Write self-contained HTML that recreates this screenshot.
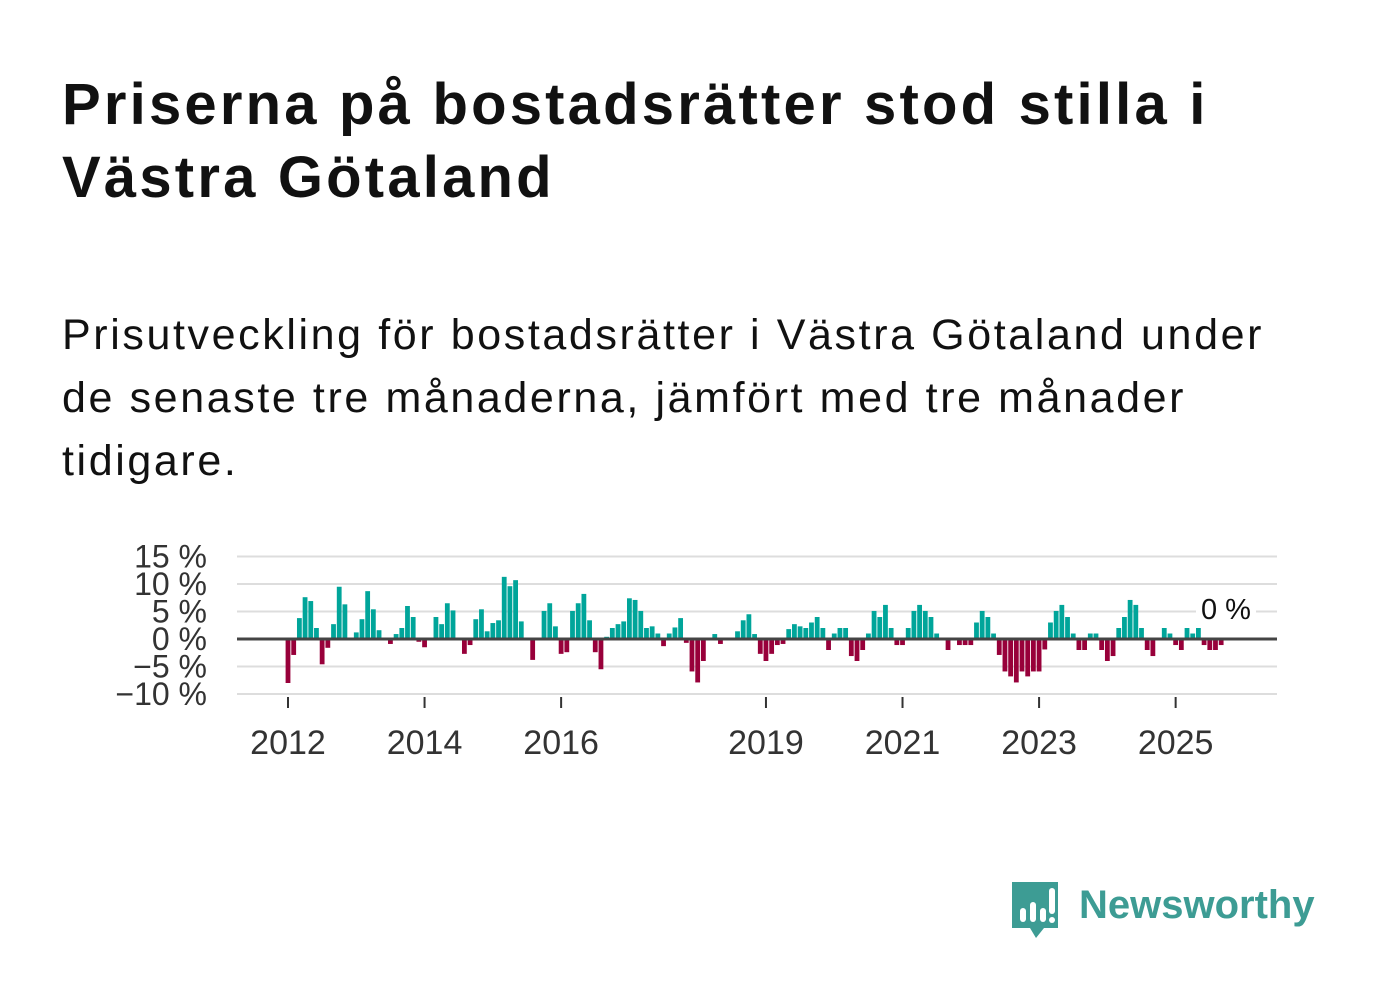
<!DOCTYPE html>
<html><head><meta charset="utf-8"><style>
body{margin:0;background:#fff;width:1382px;height:999px;overflow:hidden;font-family:"Liberation Sans",sans-serif;position:relative}
#title{position:absolute;left:62px;top:68px;font-size:58px;font-weight:bold;line-height:73px;color:#111;margin:0;width:1320px;letter-spacing:3.2px;white-space:nowrap}
#sub{position:absolute;left:62px;top:304px;font-size:43px;line-height:63px;color:#111;width:1320px;letter-spacing:2.6px;white-space:nowrap}
#logo{position:absolute;left:1010px;top:878px}
</style></head><body>
<h1 id="title">Priserna på bostadsrätter stod stilla i<br>Västra Götaland</h1>
<div id="sub">Prisutveckling för bostadsrätter i Västra Götaland under<br>de senaste tre månaderna, jämfört med tre månader<br>tidigare.</div>
<svg id="chart" width="1382" height="999" style="position:absolute;left:0;top:0"></svg>
<div id="logo">
<svg width="320" height="64">
<path d="M2 4 h46 v46 h-14 l-8 10 l-6 -10 h-18z" fill="#3d9c94"/>
<rect x="10" y="30" width="6" height="14" rx="3" fill="#fff"/>
<rect x="20" y="24" width="6" height="20" rx="3" fill="#fff"/>
<rect x="30" y="30" width="6" height="14" rx="3" fill="#fff"/>
<rect x="39" y="10" width="6" height="26" rx="3" fill="#fff"/>
<circle cx="42" cy="42" r="3" fill="#fff"/>
<text x="69" y="40" font-family="Liberation Sans, sans-serif" font-size="40" font-weight="bold" fill="#3d9c94">Newsworthy</text>
</svg></div>
<script>
const values=[-8,-2.9,3.8,7.6,6.9,2.0,-4.6,-1.6,2.7,9.5,6.3,0,1.2,3.6,8.7,5.4,1.6,0,-0.9,0.9,2.0,6.0,4.0,-0.5,-1.5,0,4.0,2.7,6.5,5.2,0,-2.7,-1.1,3.6,5.4,1.4,2.9,3.4,11.3,9.6,10.7,3.2,0,-3.8,0,5.1,6.5,2.3,-2.7,-2.4,5.1,6.5,8.2,3.4,-2.4,-5.5,
0.4,2.0,2.7,3.2,7.4,7.1,5.1,2.0,2.3,1.0,-1.3,1.0,2.1,3.8,-0.7,-5.9,-7.9,-4.0,0,0.9,-0.9,0,0,1.4,3.4,4.5,0.9,-2.7,-4.0,-2.7,-1.1,-0.9,1.8,2.7,2.3,2.0,3.0,4.0,2.0,-2.0,1.0,2.0,2.0,-3.1,-4.0,-2.0,1.0,5.1,4.0,6.2,2.0,-1.1,-1.1,2.0,5.1,6.2,
5.1,4.0,1.0,0,-2.0,0,-1.1,-1.1,-1.1,3.0,5.1,4.0,1.0,-2.9,-5.9,-6.8,-7.9,-5.9,-6.8,-5.9,-5.9,-1.9,
3.0,5.1,6.2,4.0,1.0,-2.0,-2.0,1.0,1.0,-2.0,-4.0,-3.1,2.0,4.0,7.1,6.2,2.0,-2.0,-3.1,0,2.0,1.0,-1.1,-2.0,2.0,1.0,2.0,-1.1,-2.0,-2.0,-1.1];
const startYear=2012;
const yTicks=[15,10,5,0,-5,-10];
const yTickLabels=["15 %","10 %","5 %","0 %","−5 %","−10 %"];
const xYears=[2012,2014,2016,2019,2021,2023,2025];
const NS="http://www.w3.org/2000/svg";
const svg=document.getElementById('chart');
const X0=237,X1=1277;
function x(i){return 288+i*5.69;}
function xYear(yr){return x((yr-startYear)*12);}
function y(v){return 639-v*5.5;}
function mk(t,a){const e=document.createElementNS(NS,t);for(const k in a)e.setAttribute(k,a[k]);svg.appendChild(e);return e;}
yTicks.forEach((t,i)=>{
 if(t!==0){const g=mk('line',{x1:X0,x2:X1,y1:y(t),y2:y(t),stroke:'#dddddd','stroke-width':2});
 
 }
 const l=mk('text',{x:207,y:y(t)+11,'text-anchor':'end','font-size':32,fill:'#333','font-family':'Liberation Sans, sans-serif'});
 l.textContent=yTickLabels[i];
 
 
});
values.forEach((v,i)=>{
 const r=mk('rect',{x:x(i)-2.4,width:4.8,y:Math.min(y(v),y(0)),height:Math.abs(y(v)-y(0)),fill:v>=0?'#00a59a':'#98003a'});
 
 
});
const z=mk('line',{x1:X0,x2:X1,y1:y(0),y2:y(0),stroke:'#444','stroke-width':3});


const zb=mk('rect',{x:1196,y:594,width:60,height:32,fill:'#fff'});


const zl=mk('text',{x:1226,y:619,'text-anchor':'middle','font-size':29,fill:'#111','font-family':'Liberation Sans, sans-serif'});
zl.textContent='0 %';


xYears.forEach(yr=>{
 const tk=mk('line',{x1:xYear(yr),x2:xYear(yr),y1:697,y2:708,stroke:'#333','stroke-width':2});
 
 
 const t=mk('text',{x:xYear(yr),y:754,'text-anchor':'middle','font-size':34,fill:'#333','font-family':'Liberation Sans, sans-serif'});
 t.textContent=yr;
 
 
});
</script>
</body></html>
